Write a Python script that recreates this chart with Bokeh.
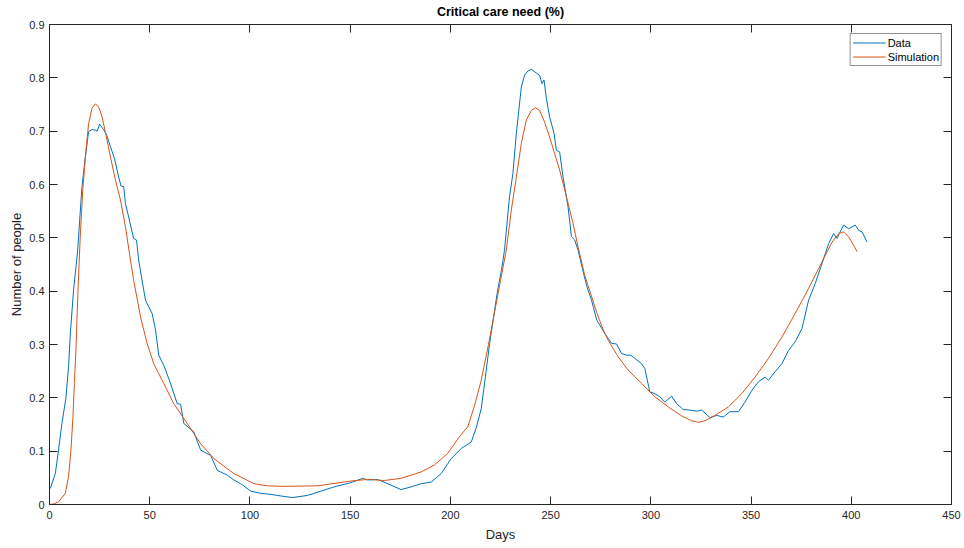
from bokeh.plotting import figure
from bokeh.models import (Range1d, FixedTicker, LinearAxis, Legend, LegendItem,
                          CustomLabelingPolicy)
from bokeh.embed import file_html
from bokeh.resources import INLINE

# ---------------- data ----------------
data_days = [0.4, 2.9, 4.5, 6.2, 8.2, 9.5, 10.4, 12.0, 14.0, 16.2, 17.9, 19.5, 21.2, 22.9, 23.8,
             25.0, 27.0, 28.4, 30.4, 32.4, 34.5, 35.7, 37.0, 37.9, 39.5, 41.2, 42.0, 43.4, 44.5,
             46.0, 47.9, 51.2, 52.9, 54.5, 57.0, 60.4, 63.7, 65.4, 67.0, 72.0, 75.4, 80.4, 83.7,
             88.7, 92.0, 95.4, 100.4, 105.4, 110.4, 115.4, 121.2, 128.7, 135.4, 142.0, 150.4,
             156.2, 158.7, 163.7, 168.7, 175.4, 180.4, 185.4, 190.4, 195.4, 200.4, 205.4, 210.4,
             213.0, 215.4, 217.5, 219.5, 221.5, 223.5, 225.5, 227.0, 229.5, 231.2, 232.9, 235.4,
             237.0, 238.7, 240.4, 242.9, 244.5, 245.7, 246.7, 247.9, 249.5, 251.7, 252.9, 254.5,
             256.2, 258.7, 260.4, 262.0, 263.7, 266.0, 268.0, 270.4, 273.0, 277.0, 280.4, 282.9,
             285.4, 287.9, 290.0, 292.0, 295.4, 297.0, 299.5, 302.0, 304.5, 307.0, 310.4, 312.9,
             316.2, 319.5, 322.9, 325.4, 329.5, 332.9, 336.2, 339.5, 343.7, 347.0, 350.4, 353.7,
             357.0, 358.7, 362.0, 365.4, 368.7, 372.0, 375.4, 378.7, 382.0, 385.4, 388.7, 391.2,
             392.9, 394.0, 396.2, 398.7, 402.0, 403.7, 405.4, 407.9]
data_vals = [0.030, 0.058, 0.102, 0.152, 0.200, 0.258, 0.321, 0.402, 0.474, 0.596, 0.652, 0.699,
             0.703, 0.702, 0.700, 0.713, 0.703, 0.694, 0.671, 0.649, 0.614, 0.597, 0.596, 0.564,
             0.539, 0.511, 0.499, 0.496, 0.458, 0.424, 0.383, 0.358, 0.327, 0.280, 0.261, 0.227,
             0.189, 0.188, 0.152, 0.136, 0.102, 0.092, 0.064, 0.055, 0.046, 0.039, 0.025, 0.021,
             0.019, 0.016, 0.013, 0.017, 0.025, 0.033, 0.041, 0.049, 0.046, 0.047, 0.039, 0.028,
             0.033, 0.039, 0.042, 0.058, 0.086, 0.105, 0.117, 0.145, 0.180, 0.240, 0.300, 0.350,
             0.400, 0.440, 0.477, 0.577, 0.621, 0.696, 0.783, 0.805, 0.813, 0.816, 0.809, 0.805,
             0.789, 0.796, 0.761, 0.727, 0.696, 0.664, 0.661, 0.614, 0.558, 0.502, 0.496, 0.477,
             0.440, 0.410, 0.383, 0.346, 0.321, 0.302, 0.301, 0.283, 0.280, 0.280, 0.274, 0.264,
             0.255, 0.211, 0.208, 0.202, 0.192, 0.203, 0.189, 0.178, 0.177, 0.175, 0.177, 0.163,
             0.167, 0.164, 0.174, 0.174, 0.192, 0.214, 0.230, 0.239, 0.233, 0.249, 0.264, 0.289,
             0.305, 0.330, 0.383, 0.414, 0.452, 0.489, 0.508, 0.499, 0.508, 0.524, 0.517, 0.524,
             0.514, 0.511, 0.492]

sim_days = [0.0, 2.0, 4.5, 7.9, 9.5, 10.7, 11.7, 12.4, 13.2, 14.2, 15.3, 16.6, 17.9, 19.5, 21.2,
            22.9, 24.5, 26.2, 28.4, 30.4, 32.9, 35.4, 37.9, 40.4, 42.0, 45.4, 48.7, 52.0, 57.0,
            62.0, 68.7, 75.4, 82.0, 92.0, 102.0, 108.7, 117.0, 133.7, 150.4, 158.7, 167.0, 175.4,
            185.4, 192.0, 198.7, 204.5, 208.7, 212.0, 215.4, 219.0, 222.0, 225.0, 227.9, 230.4,
            232.9, 235.4, 237.9, 240.4, 242.4, 244.5, 247.0, 249.5, 252.0, 254.5, 257.9, 261.2,
            263.7, 267.0, 270.0, 273.0, 276.0, 278.7, 283.7, 288.7, 295.4, 302.0, 308.7, 315.4,
            320.4, 323.7, 327.0, 332.0, 338.7, 345.4, 352.0, 358.7, 365.4, 372.0, 378.7, 385.4,
            390.4, 393.7, 396.2, 398.7, 401.2, 402.9]
sim_vals = [0.000, 0.001, 0.005, 0.021, 0.052, 0.102, 0.164, 0.227, 0.290, 0.400, 0.500, 0.590,
            0.652, 0.714, 0.743, 0.751, 0.746, 0.727, 0.689, 0.652, 0.608, 0.571, 0.521, 0.458,
            0.420, 0.352, 0.302, 0.264, 0.227, 0.189, 0.152, 0.114, 0.086, 0.058, 0.039, 0.035,
            0.034, 0.035, 0.044, 0.047, 0.045, 0.049, 0.061, 0.074, 0.096, 0.127, 0.146, 0.185,
            0.233, 0.300, 0.360, 0.420, 0.477, 0.552, 0.614, 0.677, 0.721, 0.739, 0.744, 0.739,
            0.717, 0.689, 0.658, 0.627, 0.577, 0.527, 0.483, 0.430, 0.395, 0.360, 0.330, 0.308,
            0.277, 0.252, 0.227, 0.202, 0.183, 0.166, 0.157, 0.154, 0.157, 0.167, 0.183, 0.208,
            0.239, 0.274, 0.314, 0.358, 0.405, 0.455, 0.492, 0.508, 0.511, 0.502, 0.486, 0.474]

x_ticks = [0, 50, 100, 150, 200, 250, 300, 350, 400, 450]
y_ticks = [0, 0.1, 0.2, 0.3, 0.4, 0.5, 0.6, 0.7, 0.8, 0.9]
y_tick_labels = ["0", "0.1", "0.2", "0.3", "0.4", "0.5", "0.6", "0.7", "0.8", "0.9"]

TITLE = "Critical care need (%)"
X_LABEL = "Days"
Y_LABEL = "Number of people"

# ---------------- styles ----------------
FONT = "Liberation Sans"
AX_COL = "#262626"
BLUE = "#0072BD"
ORANGE = "#D95319"

p = figure(width=961, height=546, output_backend="svg", toolbar_location=None,
           x_range=Range1d(0, 450), y_range=Range1d(0, 0.9),
           x_axis_type=None, y_axis_type=None,
           min_border_left=49, min_border_right=10, min_border_top=24, min_border_bottom=42)
p.background_fill_color = "white"
p.border_fill_color = "white"
p.outline_line_color = None

p.title.text = TITLE
p.title.text_font = FONT
p.title.text_font_size = "12.5px"
p.title.text_font_style = "bold"
p.title.text_color = "#000000"
p.title.align = "center"
p.title.standoff = 3

hide_labels = CustomLabelingPolicy(
    code="for (const i of Array.from(indices)) { indices.unset(i) }\nreturn indices")


def style_axis(ax, labels=True):
    ax.axis_line_color = AX_COL
    ax.axis_line_width = 1
    ax.major_tick_line_color = AX_COL
    ax.major_tick_in = 8
    ax.major_tick_out = 0
    ax.minor_tick_line_color = None
    ax.major_label_text_font = FONT
    ax.major_label_text_color = AX_COL
    ax.major_label_text_font_size = "11px"
    ax.axis_label_text_font = FONT
    ax.axis_label_text_color = AX_COL
    ax.axis_label_text_font_style = "normal"
    ax.axis_label_text_font_size = "13px"
    if not labels:
        ax.major_label_policy = hide_labels
        ax.major_label_text_font_size = "1px"
        ax.major_label_standoff = 0


xb = LinearAxis(ticker=FixedTicker(ticks=x_ticks), axis_label=X_LABEL)
style_axis(xb)
xb.major_label_standoff = 6
xb.axis_label_standoff = 5
p.add_layout(xb, "below")

yl = LinearAxis(ticker=FixedTicker(ticks=y_ticks), axis_label=Y_LABEL)
style_axis(yl)
yl.major_label_overrides = {t: s for t, s in zip(y_ticks, y_tick_labels)}
yl.major_label_standoff = 5
yl.axis_label_standoff = 2
p.add_layout(yl, "left")

xt = LinearAxis(ticker=FixedTicker(ticks=x_ticks))
style_axis(xt, labels=False)
p.add_layout(xt, "above")

yr = LinearAxis(ticker=FixedTicker(ticks=y_ticks))
style_axis(yr, labels=False)
p.add_layout(yr, "right")

r1 = p.line(data_days, data_vals, line_color=BLUE, line_width=1)
r2 = p.line(sim_days, sim_vals, line_color=ORANGE, line_width=1)

legend = Legend(items=[LegendItem(label="Data", renderers=[r1]),
                       LegendItem(label="Simulation", renderers=[r2])],
                location="top_right")
legend.label_text_font = FONT
legend.label_text_font_size = "11px"
legend.label_text_color = "#000000"
legend.border_line_color = AX_COL
legend.border_line_width = 1
legend.background_fill_color = "white"
legend.background_fill_alpha = 1
legend.glyph_width = 33
legend.glyph_height = 13
legend.label_height = 13
legend.label_standoff = 2
legend.spacing = 1
legend.padding = 2
legend.margin = 9
p.add_layout(legend, "center")

open("out.html", "w").write(file_html(p, INLINE))
